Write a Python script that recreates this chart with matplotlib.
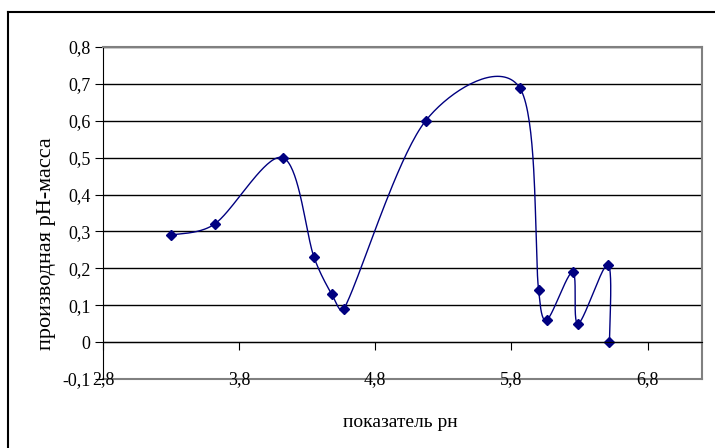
import numpy as np
from matplotlib import pyplot as plt
from matplotlib.lines import Line2D
from matplotlib.ticker import FuncFormatter

# показатель рН и производная
ph = [3.3, 3.62, 4.12, 4.35, 4.48, 4.57, 5.17, 5.86, 6.0, 6.06, 6.25, 6.29, 6.51, 6.52]
deriv = [0.29, 0.32, 0.5, 0.23, 0.13, 0.09, 0.6, 0.69, 0.14, 0.06, 0.19, 0.05, 0.21, 0.0]

x_ticks = [2.8, 3.8, 4.8, 5.8, 6.8]
y_ticks = [-0.1, 0, 0.1, 0.2, 0.3, 0.4, 0.5, 0.6, 0.7, 0.8]


def smooth(xs, ys, sx=136.0, sy=369.0, clamp=0.4, n=40):
    # сглаженная линия: кривые Безье (1/6 разности соседей),
    # управляющий отрезок не длиннее доли участка (считаем в пикселях)
    p = np.column_stack([np.asarray(xs) * sx, np.asarray(ys) * sy]).astype(float)
    m = len(p)
    ext = np.vstack([p[0], p, p[-1]])
    t = np.linspace(0, 1, n)[:, None]

    def limit(v, L):
        s = np.hypot(*v)
        return v if s <= clamp * L or s == 0 else v * clamp * L / s

    out = []
    for i in range(m - 1):
        p0, p3 = p[i], p[i + 1]
        L = np.hypot(*(p3 - p0))
        c1 = p0 + limit((ext[i + 2] - ext[i]) / 6, L)
        c2 = p3 - limit((ext[i + 3] - ext[i + 1]) / 6, L)
        seg = (1 - t) ** 3 * p0 + 3 * (1 - t) ** 2 * t * c1 + 3 * (1 - t) * t ** 2 * c2 + t ** 3 * p3
        out.append(seg)
    out = np.vstack(out)
    return out[:, 0] / sx, out[:, 1] / sy


plt.rcParams['font.family'] = ['Liberation Serif', 'DejaVu Serif']

fig = plt.figure(figsize=(7.15, 4.48), dpi=100)
ax = fig.add_axes([103 / 715, 69 / 448, 599 / 715, 332 / 448])

lx, ly = smooth(ph, deriv)
ax.plot(lx, ly, color="#000080", lw=1)
ax.plot(ph, deriv, ls="none", marker="D", ms=5, color="#000080")

ax.set_xlim(2.8, 7.2)
ax.set_ylim(-0.1, 0.8)
ax.set_xticks(x_ticks)
ax.set_yticks(y_ticks)
comma = FuncFormatter(lambda v, pos: ('%g' % round(v, 2)).replace('.', ','))
ax.xaxis.set_major_formatter(comma)
ax.yaxis.set_major_formatter(comma)

for y in y_ticks[1:]:
    ax.axhline(y, color="black", lw=1, zorder=0)

ax.spines['bottom'].set_position(('data', 0))
ax.spines['bottom'].set_color("black")
ax.spines['left'].set_color("black")
ax.spines['top'].set_color("#808080")
ax.spines['right'].set_color("#808080")
ax.spines['top'].set_linewidth(1.5)
ax.spines['right'].set_linewidth(1.5)
ax.axhline(-0.1, color="#808080", lw=1.5, clip_on=False, zorder=0)

ax.tick_params(axis='x', direction='out', length=6, pad=15, labelsize=13)
ax.tick_params(axis='y', direction='out', length=6, pad=3, labelsize=13)

fig.text(47 / 715, 1 - 244 / 448, "производная рН-масса", rotation=90,
         ha="center", va="center", fontsize=16)
fig.text(400 / 715, 1 - 422 / 448, "показатель рн", ha="center", va="center", fontsize=14)

# рамка области диаграммы
fig.add_artist(Line2D([8 / 715, 8 / 715], [0, 1 - 12 / 448], color="black", lw=1.5))
fig.add_artist(Line2D([8 / 715, 1], [1 - 12 / 448, 1 - 12 / 448], color="black", lw=1.5))

plt.savefig("out.png", dpi=100)
